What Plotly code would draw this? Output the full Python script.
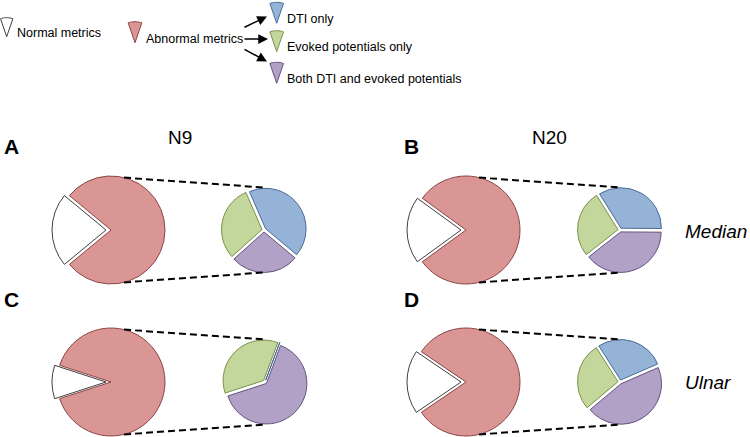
import math
import plotly.graph_objects as go

W, H = 750, 437

# ---------------- data ----------------
panel_letters = ["A", "B", "C", "D"]
column_titles = ["N9", "N20"]
row_titles = ["Median", "Ulnar"]
legend_labels = ["Normal metrics", "Abnormal metrics", "DTI only",
                 "Evoked potentials only", "Both DTI and evoked potentials"]

normal_pct = [22.0, 20.0, 10.0, 19.0]          # white slice of the large pie
abnormal_pct = [78.0, 80.0, 90.0, 81.0]        # red slice of the large pie
dti_only_pct = [42.6, 34.0, 0.0, 27.5]         # blue (share of abnormal)
both_pct = [27.3, 39.3, 64.3, 45.4]            # purple
ep_only_pct = [30.1, 26.7, 35.7, 27.1]         # green

# ---------------- styles ----------------
RED, RED_LINE = "#D99694", "#8C4545"
WHITE, WHITE_LINE = "#FFFFFF", "#404040"
BLUE, BLUE_LINE = "#95B3D7", "#4A6C96"
GREEN, GREEN_LINE = "#C3D69B", "#7A9148"
PURPLE, PURPLE_LINE = "#B2A1C7", "#65527F"
CLEAR = "rgba(0,0,0,0)"
TXT = "Liberation Sans, Arial, Helvetica, sans-serif"

# layout geometry (pixels)
big_centers = [(111, 230), (466, 230), (111, 382), (466, 382)]
small_centers = [(264, 230), (620, 230), (265, 382), (620, 382)]
small_start = [-23.5, -32.0, 20.5, -32.5]   # clockwise start of first (blue) slice
R_BIG, R_SMALL = 54.0, 42.5
WHITE_SHIFT = 5.0
SMALL_PULL = 0.05


def px(x):
    return x / W


def py(y):
    return 1 - y / H


def dom(cx, cy, half):
    return dict(x=[px(cx - half), px(cx + half)],
                y=[py(cy + half), py(cy - half)])


def wrap(a):
    return ((a + 180) % 360) - 180


fig = go.Figure()
shapes = []
annotations = []

for i in range(4):
    n, a = normal_pct[i], abnormal_pct[i]
    rot = wrap(270 - 360 * n / (n + a) / 2)
    cx, cy = big_centers[i]
    # abnormal (red) part
    fig.add_trace(go.Pie(
        values=[n, a], labels=legend_labels[:2], sort=False, direction="clockwise",
        rotation=rot, textinfo="none", showlegend=False,
        marker=dict(colors=[CLEAR, RED], line=dict(color=[CLEAR, RED_LINE], width=[0, 1])),
        domain=dom(cx, cy, R_BIG)))
    # normal (white) part, pulled out to the left
    fig.add_trace(go.Pie(
        values=[n, a], labels=legend_labels[:2], sort=False, direction="clockwise",
        rotation=rot, textinfo="none", showlegend=False,
        marker=dict(colors=[WHITE, CLEAR], line=dict(color=[WHITE_LINE, CLEAR], width=[1, 0])),
        domain=dom(cx - WHITE_SHIFT, cy, R_BIG)))
    # breakdown pie
    sx, sy = small_centers[i]
    fig.add_trace(go.Pie(
        values=[dti_only_pct[i], both_pct[i], ep_only_pct[i]],
        labels=[legend_labels[2], legend_labels[4], legend_labels[3]],
        sort=False, direction="clockwise", rotation=wrap(small_start[i]),
        textinfo="none", showlegend=False, pull=[SMALL_PULL] * 3,
        marker=dict(colors=[BLUE, PURPLE, GREEN],
                    line=dict(color=[BLUE_LINE, PURPLE_LINE, GREEN_LINE], width=1)),
        domain=dom(sx, sy, R_SMALL)))
    # dashed connectors
    for ang_big, ang_small in [(14, 0), (166, 180)]:
        x0 = cx + R_BIG * math.sin(math.radians(ang_big))
        y0 = cy - R_BIG * math.cos(math.radians(ang_big))
        x1 = sx + R_SMALL * math.sin(math.radians(ang_small))
        y1 = sy - R_SMALL * math.cos(math.radians(ang_small))
        shapes.append(dict(type="line", xref="paper", yref="paper",
                           x0=px(x0), y0=py(y0), x1=px(x1), y1=py(y1),
                           line=dict(color="black", width=2, dash="7px,4px")))

# panel letters
for i, (lx, ly) in enumerate([(11, 146), (411, 146), (11, 299), (411, 299)]):
    annotations.append(dict(x=px(lx), y=py(ly), xref="paper", yref="paper",
                            text="<b>%s</b>" % panel_letters[i], showarrow=False,
                            font=dict(family=TXT, size=21, color="black"),
                            xanchor="center", yanchor="middle"))
# column titles
for t, (tx, ty) in zip(column_titles, [(179.5, 137), (549.5, 137)]):
    annotations.append(dict(x=px(tx), y=py(ty), xref="paper", yref="paper", text=t,
                            showarrow=False, font=dict(family=TXT, size=19, color="black"),
                            xanchor="center", yanchor="middle"))
# row titles
for t, (tx, ty) in zip(row_titles, [(683, 232), (683, 382)]):
    annotations.append(dict(x=px(tx), y=py(ty), xref="paper", yref="paper",
                            text="<i>%s</i>" % t, showarrow=False,
                            font=dict(family=TXT, size=19, color="black"),
                            xanchor="left", yanchor="middle"))

# legend icons (narrow wedges pointing down) and texts
icons = [  # tip x, tip y, radius, fill, line
    (6.7, 36.7, 19, WHITE, WHITE_LINE),
    (135.0, 42.7, 21, RED, RED_LINE),
    (276.7, 23.3, 21, BLUE, BLUE_LINE),
    (276.7, 51.7, 21, GREEN, GREEN_LINE),
    (276.7, 83.3, 21, PURPLE, PURPLE_LINE),
]
HALF = 19
for tx, ty, r, fc, lc in icons:
    pts = [(tx, ty)]
    for k in range(13):
        a = math.radians(-HALF + 2 * HALF * k / 12)
        pts.append((tx + r * math.sin(a), ty - r * math.cos(a)))
    path = "M " + " L ".join("%.5f,%.5f" % (px(x), py(y)) for x, y in pts) + " Z"
    shapes.append(dict(type="path", xref="paper", yref="paper", path=path,
                       fillcolor=fc, line=dict(color=lc, width=1)))

legend_pos = [(15, 33), (144, 39), (285, 19), (285, 47), (285, 79)]
for t, (tx, ty) in zip(legend_labels, legend_pos):
    annotations.append(dict(x=px(tx), y=py(ty), xref="paper", yref="paper", text=t,
                            showarrow=False, font=dict(family=TXT, size=12.5, color="black"),
                            xanchor="left", yanchor="middle"))

# arrows from "Abnormal metrics" to the three breakdown categories
for (hx, hy), (tx, ty) in [((267, 16.5), (243, 28)), ((268, 39), (243, 39)),
                           ((267, 61.5), (243, 48.5))]:
    annotations.append(dict(x=px(hx), y=py(hy), xref="paper", yref="paper",
                            ax=tx - hx, ay=ty - hy, axref="pixel", ayref="pixel",
                            text="", showarrow=True, arrowhead=2, arrowsize=1.3,
                            arrowwidth=1.5, arrowcolor="black", standoff=0))

fig.update_layout(width=W, height=H, margin=dict(l=0, r=0, t=0, b=0),
                  paper_bgcolor="white", plot_bgcolor="white", showlegend=False,
                  shapes=shapes, annotations=annotations)
fig.write_html("out.html", config={"displayModeBar": False},
               post_script="document.body.style.margin='0px';document.body.style.overflow='hidden';")
